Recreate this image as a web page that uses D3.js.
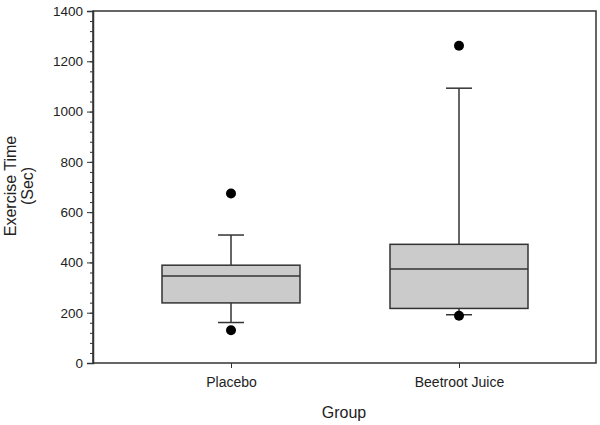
<!DOCTYPE html>
<html>
<head>
<meta charset="utf-8">
<script src="https://cdn.jsdelivr.net/npm/d3@7"></script>
<style>
  body { margin: 0; background: #fff; }
  text { font-family: "Liberation Sans", Arial, sans-serif; fill: #222; }
</style>
</head>
<body>
<script>
// data
var groups = ["Placebo", "Beetroot Juice"];
var q1 = [239, 217];
var median = [346, 374];
var q3 = [389, 472];
var whiskerLow = [161, 192];
var whiskerHigh = [509, 1093];
var outliers = [[674, 130], [1262, 188]];
var yTicks = [0, 200, 400, 600, 800, 1000, 1200, 1400];

var outerWidth = 600, outerHeight = 425;
var margin = {top: 11, right: 4, bottom: 62, left: 93},
    width = outerWidth - margin.left - margin.right,
    height = outerHeight - margin.top - margin.bottom;

var x = d3.scalePoint()
    .domain(groups)
    .range([138, 366]);

var y = d3.scaleLinear()
    .domain([0, 1400])
    .range([height, 0]);

var svg = d3.select("body").append("svg")
    .attr("width", outerWidth)
    .attr("height", outerHeight)
  .append("g")
    .attr("transform", `translate(${margin.left},${margin.top})`);

var stroke = "#333";
var boxHalf = 69, capHalf = 13;

// frame
svg.append("rect")
    .attr("width", width).attr("height", height)
    .attr("fill", "none").attr("stroke", stroke).attr("stroke-width", 1.5);

// minor ticks
svg.append("g")
    .call(d3.axisLeft(y).tickValues(d3.range(0, 1401, 40)).tickSize(3).tickFormat(""))
    .call(g => g.select(".domain").remove())
    .selectAll("line").attr("stroke", stroke);

// y axis
var yAx = svg.append("g")
    .call(d3.axisLeft(y).tickValues(yTicks).tickSize(6).tickPadding(4).tickFormat(d3.format("d")));
yAx.select(".domain").attr("stroke", stroke).attr("stroke-width", 1.5);
yAx.selectAll("line").attr("stroke", stroke);
yAx.selectAll("text").attr("font-size", 13.5).attr("font-family", "Liberation Sans, Arial, sans-serif").attr("fill", "#222");

// x axis
var xAx = svg.append("g")
    .attr("transform", `translate(0,${height})`)
    .call(d3.axisBottom(x).tickSize(5).tickPadding(9));
xAx.select(".domain").remove();
xAx.selectAll("line").attr("stroke", stroke);
xAx.selectAll("text").attr("font-size", 14).attr("font-family", "Liberation Sans, Arial, sans-serif").attr("fill", "#222");

// boxes
var data = groups.map(function(g, i) {
  return {g: g, q1: q1[i], med: median[i], q3: q3[i], lo: whiskerLow[i], hi: whiskerHigh[i], out: outliers[i]};
});

var b = svg.selectAll(".box").data(data).enter().append("g").attr("class", "box");

b.append("line")
    .attr("x1", d => x(d.g)).attr("x2", d => x(d.g))
    .attr("y1", d => y(d.q3)).attr("y2", d => y(d.hi))
    .attr("stroke", stroke).attr("stroke-width", 1.5);
b.append("line")
    .attr("x1", d => x(d.g)).attr("x2", d => x(d.g))
    .attr("y1", d => y(d.q1)).attr("y2", d => y(d.lo))
    .attr("stroke", stroke).attr("stroke-width", 1.5);
["hi", "lo"].forEach(function(k) {
  b.append("line")
      .attr("x1", d => x(d.g) - capHalf).attr("x2", d => x(d.g) + capHalf)
      .attr("y1", d => y(d[k])).attr("y2", d => y(d[k]))
      .attr("stroke", stroke).attr("stroke-width", 1.5);
});
b.append("rect")
    .attr("x", d => x(d.g) - boxHalf).attr("width", boxHalf * 2)
    .attr("y", d => y(d.q3)).attr("height", d => y(d.q1) - y(d.q3))
    .attr("fill", "#cbcbcb").attr("stroke", stroke).attr("stroke-width", 1.5);
b.append("line")
    .attr("x1", d => x(d.g) - boxHalf).attr("x2", d => x(d.g) + boxHalf)
    .attr("y1", d => y(d.med)).attr("y2", d => y(d.med))
    .attr("stroke", stroke).attr("stroke-width", 1.5);
b.selectAll("circle").data(d => d.out.map(v => ({g: d.g, v: v}))).enter().append("circle")
    .attr("cx", d => x(d.g)).attr("cy", d => y(d.v))
    .attr("r", 5).attr("fill", "#000");

// axis titles
svg.append("text")
    .attr("x", 344 - margin.left).attr("y", 418 - margin.top)
    .attr("text-anchor", "middle").attr("font-size", 16)
    .text("Group");

var yt = svg.append("text")
    .attr("transform", `translate(${-margin.left + 16},${186 - margin.top}) rotate(-90)`)
    .attr("text-anchor", "middle").attr("font-size", 16);
yt.append("tspan").attr("x", 0).attr("dy", 0).text("Exercise Time");
yt.append("tspan").attr("x", 0).attr("dy", 17).text("(Sec)");
</script>
</body>
</html>
